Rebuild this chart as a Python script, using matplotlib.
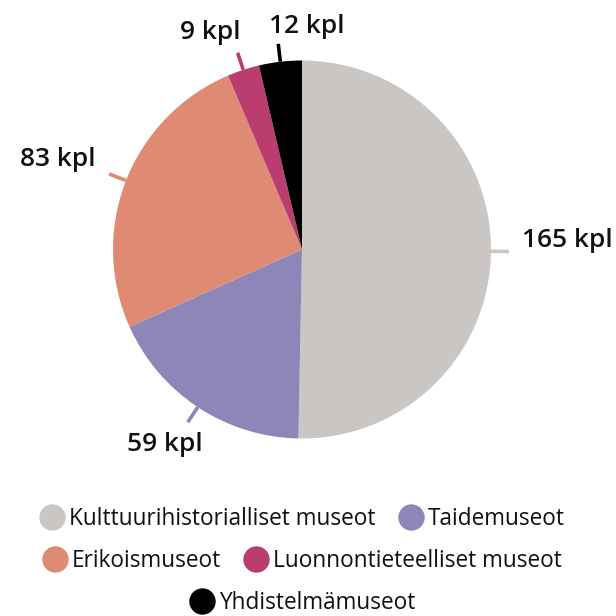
import matplotlib
matplotlib.use("Agg")
import matplotlib.pyplot as plt
import numpy as np
from matplotlib.lines import Line2D

categories = ["Kulttuurihistorialliset museot", "Taidemuseot", "Erikoismuseot",
              "Luonnontieteelliset museot", "Yhdistelmämuseot"]
values = [165, 59, 83, 9, 12]
labels = ["165 kpl", "59 kpl", "83 kpl", "9 kpl", "12 kpl"]
colors = ["#cac6c3", "#8d87b9", "#df8b74", "#bb3d70", "#000000"]

# layout: label offsets (pixels) from the end of each tick line
label_offsets = [(13, 11), (-23, -22), (-14, 14), (-27, 20), (28, 17)]
label_align = [("left", "center"), ("center", "center"), ("right", "center"),
               ("center", "center"), ("center", "center")]

W = H = 616
fig = plt.figure(figsize=(6.16, 6.16), dpi=100)
ax = fig.add_axes([0, 0, 1, 1])

cx, cy, R = 302, H - 249.5, 189
wedges, _ = ax.pie(values, colors=colors, startangle=90, counterclock=False,
                   center=(cx, cy), radius=R, frame=True,
                   wedgeprops=dict(linewidth=0))
ax.set_xlim(0, W)
ax.set_ylim(0, H)
ax.set_aspect("equal")
ax.axis("off")

for w, lab, off, (ha, va), col in zip(wedges, labels, label_offsets, label_align, colors):
    ang = np.deg2rad((w.theta1 + w.theta2) / 2)
    x0, y0 = cx + R * np.cos(ang), cy + R * np.sin(ang)
    x1, y1 = cx + (R + 18) * np.cos(ang), cy + (R + 18) * np.sin(ang)
    ax.plot([x0, x1], [y0, y1], color=col, lw=2.6, solid_capstyle="butt")
    ax.annotate(lab, xy=(x1, y1), xytext=off, textcoords="offset pixels",
                ha=ha, va=va, fontsize=19, family="Open Sans", fontweight="semibold",
                color="#111111")

rows = [[0, 1], [2, 3], [4]]
row_y = [H - 519, H - 561, H - 603]
for idxs, ry in zip(rows, row_y):
    handles = [Line2D([], [], marker="o", linestyle="none", markersize=19,
                      markerfacecolor=colors[i], markeredgewidth=0) for i in idxs]
    leg = fig.legend(handles, [categories[i] for i in idxs], loc="center",
                     bbox_to_anchor=(302 / W, ry / H), ncol=len(idxs), frameon=False,
                     prop=dict(family="Open Sans", size=16.3), handletextpad=0.2,
                     columnspacing=1.0, handlelength=1.1, borderpad=0, borderaxespad=0)
    for t in leg.get_texts():
        t.set_color("#111111")

fig.savefig("out.png", dpi=100)
